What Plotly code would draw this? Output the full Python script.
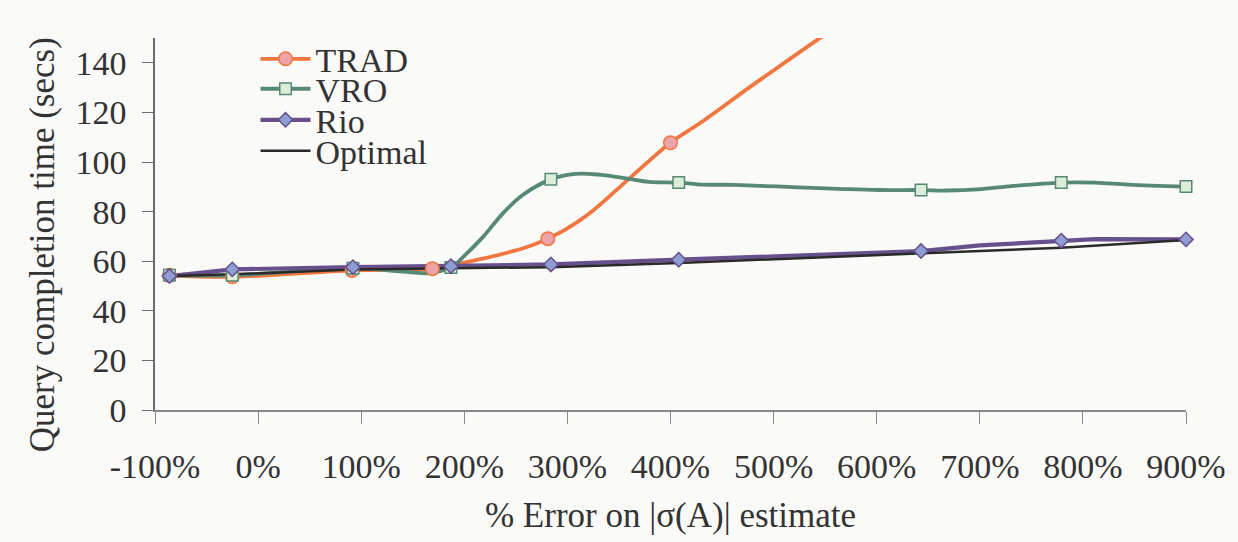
import plotly.graph_objects as go

# % error on the |σ(A)| estimate (x) and query completion time in seconds (y)
trad_x = [-86, -25, 91, 169, 195, 218, 244, 263, 281, 298, 321, 360, 400, 428, 484, 555, 620]
trad_y = [54.3, 53.7, 56.3, 57.0, 59.0, 61.0, 63.7, 66.0, 69.1, 72.7, 79.1, 93.3, 107.8, 115.5, 132.3,
          152.9, 171.5]
trad_marked = [-86, -25, 91, 169, 281, 400]

vro_x = [-86, -25, 92, 140, 165, 187, 202, 218, 237, 256, 284, 308, 331, 360, 379, 408, 431, 460,
         492, 524, 563, 602, 643, 667, 702, 731, 779, 812, 844, 900]
vro_y = [54.3, 54.3, 57.2, 55.8, 55.2, 57.5, 63.0, 69.7, 79.1, 86.5, 93.0, 95.2, 94.9, 93.2, 92.0, 91.7, 90.9,
         90.8, 90.3, 89.8, 89.2, 88.7, 88.7, 88.5, 89.1, 90.3, 91.7, 91.7, 90.9, 90.1]
vro_marked = [-86, -25, 92, 187, 284, 408, 643, 779, 900]

rio_x = [-86, -25, 92, 187, 284, 408, 643, 700, 779, 812, 900]
rio_y = [54.0, 56.7, 57.6, 58.0, 58.7, 60.6, 64.1, 66.4, 68.3, 68.9, 68.8]
rio_marked = [-86, -25, 92, 187, 284, 408, 643, 779, 900]

opt_x = [-86, -25, 92, 187, 284, 408, 602, 643, 779, 900]
opt_y = [54.0, 54.7, 56.7, 57.2, 57.6, 59.3, 62.6, 63.3, 65.4, 68.5]

x_ticks = [-100, 0, 100, 200, 300, 400, 500, 600, 700, 800, 900]
x_tick_text = ["-100%", "0%", "100%", "200%", "300%", "400%", "500%", "600%", "700%", "800%", "900%"]
y_ticks = [0, 20, 40, 60, 80, 100, 120, 140]

FONT = '"Liberation Serif", "Times New Roman", Times, serif'
TEXT = "#333333"

series = [
    dict(name="TRAD", x=trad_x, y=trad_y, marked=trad_marked, color="#F1763F", shape="spline",
         width=3.8, symbol="circle", size=13.5, fill="#ECA4AA", legend="legend"),
    dict(name="VRO", x=vro_x, y=vro_y, marked=vro_marked, color="#588976", shape="spline",
         width=3.8, symbol="square", size=11.5, fill="#DCEED8", legend="legend2"),
    dict(name="Rio", x=rio_x, y=rio_y, marked=rio_marked, color="#68508C", shape="linear",
         width=4.2, symbol="diamond", size=11, fill="#8E9ED4", legend="legend3"),
]

fig = go.Figure()

# lines (Optimal drawn last among the lines)
for s in series:
    fig.add_trace(go.Scatter(x=s["x"], y=s["y"], mode="lines", showlegend=False,
                             line=dict(color=s["color"], width=s["width"], shape=s["shape"], smoothing=1.0),
                             hoverinfo="skip"))
fig.add_trace(go.Scatter(x=opt_x, y=opt_y, mode="lines", showlegend=False,
                         line=dict(color="#2A2A2A", width=2.5), hoverinfo="skip"))

# markers on the measured points
for s in series:
    lookup = dict(zip(s["x"], s["y"]))
    fig.add_trace(go.Scatter(x=s["marked"], y=[lookup[v] for v in s["marked"]],
                             mode="markers", showlegend=False, cliponaxis=False,
                             marker=dict(symbol=s["symbol"], size=s["size"], color=s["fill"],
                                         line=dict(color=s["color"], width=1.5))))

# legend entries
for s in series:
    fig.add_trace(go.Scatter(x=[None], y=[None], mode="lines+markers", name=s["name"], legend=s["legend"],
                             line=dict(color=s["color"], width=s["width"]),
                             marker=dict(symbol=s["symbol"], size=s["size"], color=s["fill"],
                                         line=dict(color=s["color"], width=1.5))))
fig.add_trace(go.Scatter(x=[None], y=[None], mode="lines", name="Optimal", legend="legend4",
                         line=dict(color="#2A2A2A", width=2.5)))

legend_style = dict(x=0.0975, xanchor="left", yanchor="middle", bgcolor="rgba(0,0,0,0)",
                    borderwidth=0, itemwidth=50,
                    font=dict(family=FONT, size=34, color=TEXT))

fig.update_layout(
    width=1238, height=542,
    margin=dict(l=155, r=50, t=38, b=132),
    paper_bgcolor="#FAFAF8", plot_bgcolor="#FAFAF8",
    font=dict(family=FONT, size=34, color=TEXT),
    legend=dict(y=0.943, **legend_style),
    legend2=dict(y=0.8625, **legend_style),
    legend3=dict(y=0.779, **legend_style),
    legend4=dict(y=0.696, **legend_style),
    xaxis=dict(range=[-100, 900], tickvals=x_ticks, ticktext=x_tick_text,
               showgrid=False, zeroline=False, showline=True, linecolor="#8A8A8A", linewidth=2,
               ticks="outside", ticklen=12, tickcolor="#8A8A8A", tickwidth=1.2,
               ticklabelstandoff=13, tickfont=dict(family=FONT, size=34, color=TEXT),
               title=dict(text="% Error on |σ(A)| estimate", standoff=19,
                          font=dict(family=FONT, size=35, color=TEXT))),
    yaxis=dict(range=[0, 150], tickvals=y_ticks,
               showgrid=False, zeroline=False, showline=True, linecolor="#6A6A6A", linewidth=1.5,
               ticks="outside", ticklen=11, tickcolor="#6A6A6A", tickwidth=1.2,
               ticklabelstandoff=9, tickfont=dict(family=FONT, size=34, color=TEXT)),
    annotations=[dict(text="Query completion time (secs)", textangle=-90, showarrow=False,
                      xref="paper", yref="paper", x=-0.1094, y=0.4435,
                      xanchor="center", yanchor="middle",
                      font=dict(family=FONT, size=35, color=TEXT))],
)

fig.write_html("out.html")
